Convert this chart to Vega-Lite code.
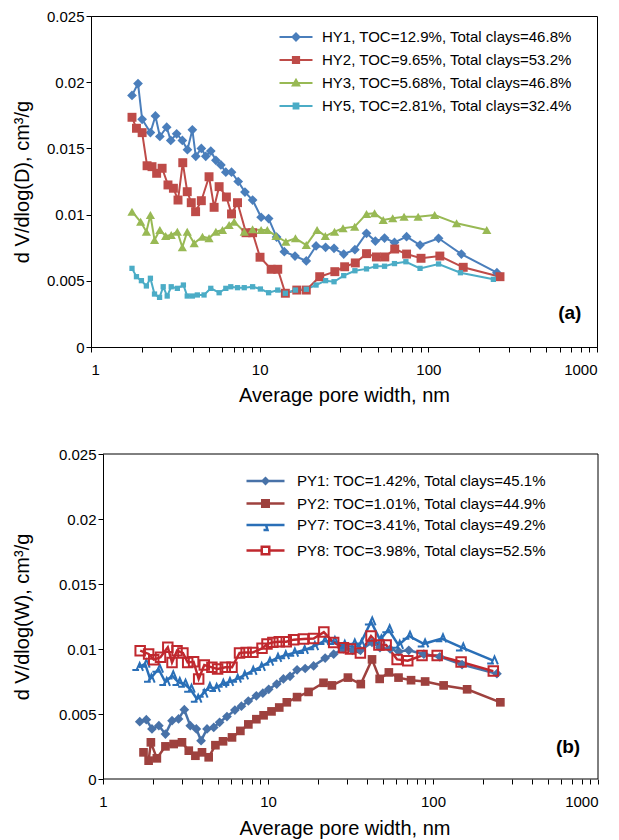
{
  "$schema": "https://vega.github.io/schema/vega-lite/v6.json",
  "padding": {"left": 11, "top": 8, "right": 2, "bottom": 2},
  "background": "white",
  "spacing": 41,
  "config": {
    "font": "Liberation Sans",
    "view": {"stroke": "black", "strokeWidth": 1},
    "axis": {"domainColor": "black", "tickColor": "black", "labelColor": "black", "titleColor": "black", "labelFont": "Liberation Sans", "titleFont": "Liberation Sans", "labelFontSize": 15, "titleFontSize": 20, "titleFontWeight": "normal", "tickSize": 5, "grid": false, "labelPadding": 2},
    "legend": {"labelFont": "Liberation Sans", "labelFontSize": 15, "labelColor": "black", "padding": 0, "labelLimit": 500}
  },
  "resolve": {"scale": {"color": "independent"}, "legend": {"color": "independent"}},
  "datasets": {
    "a": [
      {"id":"HY1","x":1.75,"y":0.0190},{"id":"HY1","x":1.90,"y":0.0199},{"id":"HY1","x":2.01,"y":0.0172},{"id":"HY1","x":2.25,"y":0.0162},{"id":"HY1","x":2.41,"y":0.01745},{"id":"HY1","x":2.56,"y":0.0159},{"id":"HY1","x":2.81,"y":0.0166},{"id":"HY1","x":2.97,"y":0.0156},{"id":"HY1","x":3.22,"y":0.0161},{"id":"HY1","x":3.48,"y":0.0156},{"id":"HY1","x":3.73,"y":0.0149},{"id":"HY1","x":3.99,"y":0.0164},{"id":"HY1","x":4.18,"y":0.0144},{"id":"HY1","x":4.51,"y":0.0150},{"id":"HY1","x":4.79,"y":0.0144},{"id":"HY1","x":5.13,"y":0.0148},{"id":"HY1","x":5.50,"y":0.0141},{"id":"HY1","x":5.89,"y":0.01375},{"id":"HY1","x":6.30,"y":0.0132},{"id":"HY1","x":6.81,"y":0.0132},{"id":"HY1","x":7.46,"y":0.0125},{"id":"HY1","x":8.18,"y":0.0117},{"id":"HY1","x":9.08,"y":0.0111},{"id":"HY1","x":10.2,"y":0.0098},{"id":"HY1","x":11.3,"y":0.0097},{"id":"HY1","x":12.6,"y":0.0083},{"id":"HY1","x":14.0,"y":0.0072},{"id":"HY1","x":16.2,"y":0.00687},{"id":"HY1","x":18.9,"y":0.0065},{"id":"HY1","x":21.6,"y":0.00763},{"id":"HY1","x":24.6,"y":0.00753},{"id":"HY1","x":27.6,"y":0.00745},{"id":"HY1","x":31.5,"y":0.00702},{"id":"HY1","x":36.7,"y":0.00735},{"id":"HY1","x":43.0,"y":0.00859},{"id":"HY1","x":48.5,"y":0.0080},{"id":"HY1","x":55.0,"y":0.00823},{"id":"HY1","x":63.0,"y":0.0079},{"id":"HY1","x":74.3,"y":0.00833},{"id":"HY1","x":89.3,"y":0.0077},{"id":"HY1","x":115,"y":0.00821},{"id":"HY1","x":157,"y":0.00702},{"id":"HY1","x":255,"y":0.00561},
      {"id":"HY2","x":1.75,"y":0.01735},{"id":"HY2","x":1.86,"y":0.01652},{"id":"HY2","x":2.01,"y":0.01619},{"id":"HY2","x":2.15,"y":0.01369},{"id":"HY2","x":2.30,"y":0.01362},{"id":"HY2","x":2.45,"y":0.01312},{"id":"HY2","x":2.64,"y":0.0135},{"id":"HY2","x":2.86,"y":0.01224},{"id":"HY2","x":3.08,"y":0.01199},{"id":"HY2","x":3.28,"y":0.0111},{"id":"HY2","x":3.50,"y":0.01392},{"id":"HY2","x":3.72,"y":0.01173},{"id":"HY2","x":3.93,"y":0.0109},{"id":"HY2","x":4.17,"y":0.01022},{"id":"HY2","x":4.51,"y":0.01105},{"id":"HY2","x":5.01,"y":0.01286},{"id":"HY2","x":5.37,"y":0.01055},{"id":"HY2","x":5.75,"y":0.01211},{"id":"HY2","x":6.35,"y":0.01133},{"id":"HY2","x":6.81,"y":0.01005},{"id":"HY2","x":7.39,"y":0.0109},{"id":"HY2","x":8.3,"y":0.00863},{"id":"HY2","x":9.08,"y":0.00863},{"id":"HY2","x":10.05,"y":0.00678},{"id":"HY2","x":11.7,"y":0.00587},{"id":"HY2","x":12.8,"y":0.00587},{"id":"HY2","x":14.2,"y":0.00406},{"id":"HY2","x":16.6,"y":0.0043},{"id":"HY2","x":18.9,"y":0.0043},{"id":"HY2","x":22.7,"y":0.00531},{"id":"HY2","x":27.9,"y":0.00569},{"id":"HY2","x":31.9,"y":0.00606},{"id":"HY2","x":36.9,"y":0.00635},{"id":"HY2","x":43,"y":0.00705},{"id":"HY2","x":49.2,"y":0.0068},{"id":"HY2","x":55.2,"y":0.0068},{"id":"HY2","x":63.2,"y":0.0074},{"id":"HY2","x":74.3,"y":0.00702},{"id":"HY2","x":90.5,"y":0.0067},{"id":"HY2","x":117,"y":0.00687},{"id":"HY2","x":161,"y":0.00602},{"id":"HY2","x":266,"y":0.00531},
      {"id":"HY3","x":1.75,"y":0.01022},{"id":"HY3","x":1.97,"y":0.00946},{"id":"HY3","x":2.13,"y":0.00871},{"id":"HY3","x":2.25,"y":0.00997},{"id":"HY3","x":2.38,"y":0.00808},{"id":"HY3","x":2.56,"y":0.00884},{"id":"HY3","x":2.77,"y":0.00838},{"id":"HY3","x":2.99,"y":0.00846},{"id":"HY3","x":3.25,"y":0.00871},{"id":"HY3","x":3.48,"y":0.00753},{"id":"HY3","x":3.72,"y":0.00871},{"id":"HY3","x":4.09,"y":0.00783},{"id":"HY3","x":4.58,"y":0.00833},{"id":"HY3","x":5.01,"y":0.00821},{"id":"HY3","x":5.50,"y":0.00871},{"id":"HY3","x":6.02,"y":0.00884},{"id":"HY3","x":6.59,"y":0.00921},{"id":"HY3","x":7.06,"y":0.00946},{"id":"HY3","x":8.10,"y":0.00871},{"id":"HY3","x":9.08,"y":0.00889},{"id":"HY3","x":10.2,"y":0.00884},{"id":"HY3","x":11.1,"y":0.00884},{"id":"HY3","x":12.5,"y":0.00838},{"id":"HY3","x":14.3,"y":0.00795},{"id":"HY3","x":16.3,"y":0.00821},{"id":"HY3","x":18.9,"y":0.0077},{"id":"HY3","x":21.9,"y":0.00884},{"id":"HY3","x":24.5,"y":0.00838},{"id":"HY3","x":27.8,"y":0.00871},{"id":"HY3","x":31.2,"y":0.00897},{"id":"HY3","x":36.6,"y":0.00909},{"id":"HY3","x":43,"y":0.01005},{"id":"HY3","x":48,"y":0.0101},{"id":"HY3","x":54,"y":0.0096},{"id":"HY3","x":61.5,"y":0.00972},{"id":"HY3","x":71.8,"y":0.00984},{"id":"HY3","x":87,"y":0.00984},{"id":"HY3","x":109,"y":0.00997},{"id":"HY3","x":147,"y":0.00934},{"id":"HY3","x":222,"y":0.00884},
      {"id":"HY5","x":1.75,"y":0.00594},{"id":"HY5","x":1.86,"y":0.00531},{"id":"HY5","x":1.99,"y":0.00501},{"id":"HY5","x":2.13,"y":0.00461},{"id":"HY5","x":2.25,"y":0.00519},{"id":"HY5","x":2.38,"y":0.0040},{"id":"HY5","x":2.55,"y":0.00375},{"id":"HY5","x":2.68,"y":0.00455},{"id":"HY5","x":2.83,"y":0.00385},{"id":"HY5","x":2.99,"y":0.00455},{"id":"HY5","x":3.25,"y":0.00443},{"id":"HY5","x":3.53,"y":0.00468},{"id":"HY5","x":3.72,"y":0.00385},{"id":"HY5","x":3.99,"y":0.00385},{"id":"HY5","x":4.27,"y":0.00393},{"id":"HY5","x":4.68,"y":0.00393},{"id":"HY5","x":5.13,"y":0.00443},{"id":"HY5","x":5.75,"y":0.0041},{"id":"HY5","x":6.30,"y":0.00443},{"id":"HY5","x":6.74,"y":0.00455},{"id":"HY5","x":7.39,"y":0.00448},{"id":"HY5","x":8.10,"y":0.00448},{"id":"HY5","x":9.08,"y":0.00455},{"id":"HY5","x":10.1,"y":0.00438},{"id":"HY5","x":11.3,"y":0.0041},{"id":"HY5","x":12.8,"y":0.0043},{"id":"HY5","x":14.2,"y":0.00406},{"id":"HY5","x":16.3,"y":0.0043},{"id":"HY5","x":18.9,"y":0.00436},{"id":"HY5","x":21.6,"y":0.00468},{"id":"HY5","x":24.6,"y":0.00501},{"id":"HY5","x":27.6,"y":0.00493},{"id":"HY5","x":31.5,"y":0.00539},{"id":"HY5","x":36.7,"y":0.00576},{"id":"HY5","x":43,"y":0.0059},{"id":"HY5","x":48.8,"y":0.0061},{"id":"HY5","x":55,"y":0.0061},{"id":"HY5","x":63,"y":0.0063},{"id":"HY5","x":73.6,"y":0.00644},{"id":"HY5","x":89.3,"y":0.00594},{"id":"HY5","x":115,"y":0.00627},{"id":"HY5","x":155,"y":0.00561},{"id":"HY5","x":243,"y":0.00511}
    ],
    "b": [
      {"id":"PY1","x":1.67,"y":0.00441},{"id":"PY1","x":1.83,"y":0.00456},{"id":"PY1","x":1.98,"y":0.00385},{"id":"PY1","x":2.18,"y":0.0041},{"id":"PY1","x":2.39,"y":0.00346},{"id":"PY1","x":2.62,"y":0.00449},{"id":"PY1","x":2.87,"y":0.00462},{"id":"PY1","x":3.11,"y":0.00533},{"id":"PY1","x":3.38,"y":0.0041},{"id":"PY1","x":3.68,"y":0.00385},{"id":"PY1","x":3.93,"y":0.00295},{"id":"PY1","x":4.27,"y":0.00385},{"id":"PY1","x":4.69,"y":0.00397},{"id":"PY1","x":5.09,"y":0.00436},{"id":"PY1","x":5.64,"y":0.0048},{"id":"PY1","x":6.3,"y":0.0053},{"id":"PY1","x":6.9,"y":0.0056},{"id":"PY1","x":7.6,"y":0.006},{"id":"PY1","x":8.5,"y":0.0064},{"id":"PY1","x":9.3,"y":0.0066},{"id":"PY1","x":10.1,"y":0.0069},{"id":"PY1","x":11.3,"y":0.0073},{"id":"PY1","x":12.4,"y":0.0077},{"id":"PY1","x":13.6,"y":0.0079},{"id":"PY1","x":15.0,"y":0.0084},{"id":"PY1","x":16.8,"y":0.0085},{"id":"PY1","x":18.9,"y":0.0087},{"id":"PY1","x":22.2,"y":0.0093},{"id":"PY1","x":25.0,"y":0.0096},{"id":"PY1","x":28.6,"y":0.0100},{"id":"PY1","x":32.5,"y":0.0099},{"id":"PY1","x":36.3,"y":0.0099},{"id":"PY1","x":42.7,"y":0.0105},{"id":"PY1","x":47.7,"y":0.0101},{"id":"PY1","x":55,"y":0.0100},{"id":"PY1","x":62,"y":0.0098},{"id":"PY1","x":71.3,"y":0.0099},{"id":"PY1","x":88,"y":0.0096},{"id":"PY1","x":110,"y":0.0094},{"id":"PY1","x":150,"y":0.0088},{"id":"PY1","x":244,"y":0.0081},
      {"id":"PY2","x":1.76,"y":0.00205},{"id":"PY2","x":1.89,"y":0.00141},{"id":"PY2","x":1.95,"y":0.00282},{"id":"PY2","x":2.12,"y":0.00159},{"id":"PY2","x":2.39,"y":0.00251},{"id":"PY2","x":2.68,"y":0.00269},{"id":"PY2","x":3.01,"y":0.00282},{"id":"PY2","x":3.31,"y":0.00218},{"id":"PY2","x":3.63,"y":0.00179},{"id":"PY2","x":3.98,"y":0.00205},{"id":"PY2","x":4.37,"y":0.00167},{"id":"PY2","x":4.8,"y":0.0026},{"id":"PY2","x":5.34,"y":0.0029},{"id":"PY2","x":6.05,"y":0.0032},{"id":"PY2","x":6.8,"y":0.0037},{"id":"PY2","x":7.6,"y":0.0042},{"id":"PY2","x":8.5,"y":0.0046},{"id":"PY2","x":9.4,"y":0.0049},{"id":"PY2","x":10.5,"y":0.0052},{"id":"PY2","x":11.7,"y":0.0055},{"id":"PY2","x":13.0,"y":0.0059},{"id":"PY2","x":15.0,"y":0.0063},{"id":"PY2","x":17.6,"y":0.0067},{"id":"PY2","x":21.7,"y":0.0074},{"id":"PY2","x":24.4,"y":0.0072},{"id":"PY2","x":30.5,"y":0.0078},{"id":"PY2","x":36.5,"y":0.0073},{"id":"PY2","x":42.7,"y":0.0092},{"id":"PY2","x":47.5,"y":0.0077},{"id":"PY2","x":54,"y":0.0082},{"id":"PY2","x":61.8,"y":0.0078},{"id":"PY2","x":73.6,"y":0.0076},{"id":"PY2","x":89.6,"y":0.0075},{"id":"PY2","x":116,"y":0.0072},{"id":"PY2","x":161,"y":0.0069},{"id":"PY2","x":256,"y":0.0059},
      {"id":"PY7","x":1.64,"y":0.0086},{"id":"PY7","x":1.80,"y":0.00885},{"id":"PY7","x":1.93,"y":0.0077},{"id":"PY7","x":2.17,"y":0.00846},{"id":"PY7","x":2.39,"y":0.00744},{"id":"PY7","x":2.62,"y":0.00795},{"id":"PY7","x":2.87,"y":0.00744},{"id":"PY7","x":3.11,"y":0.00731},{"id":"PY7","x":3.38,"y":0.00692},{"id":"PY7","x":3.71,"y":0.00615},{"id":"PY7","x":4.04,"y":0.00654},{"id":"PY7","x":4.37,"y":0.00705},{"id":"PY7","x":4.8,"y":0.00698},{"id":"PY7","x":5.27,"y":0.00731},{"id":"PY7","x":5.78,"y":0.00744},{"id":"PY7","x":6.44,"y":0.00769},{"id":"PY7","x":7.11,"y":0.00795},{"id":"PY7","x":8.0,"y":0.0083},{"id":"PY7","x":9.0,"y":0.0086},{"id":"PY7","x":10.1,"y":0.009},{"id":"PY7","x":11.3,"y":0.0093},{"id":"PY7","x":12.6,"y":0.0095},{"id":"PY7","x":14.3,"y":0.0097},{"id":"PY7","x":16.4,"y":0.0099},{"id":"PY7","x":18.9,"y":0.0102},{"id":"PY7","x":21.8,"y":0.0106},{"id":"PY7","x":25,"y":0.0106},{"id":"PY7","x":28.7,"y":0.0103},{"id":"PY7","x":33,"y":0.0104},{"id":"PY7","x":36.3,"y":0.0104},{"id":"PY7","x":42.1,"y":0.0121},{"id":"PY7","x":47.8,"y":0.0107},{"id":"PY7","x":53.7,"y":0.0115},{"id":"PY7","x":61.8,"y":0.0103},{"id":"PY7","x":71.3,"y":0.0110},{"id":"PY7","x":88,"y":0.0104},{"id":"PY7","x":113,"y":0.0108},{"id":"PY7","x":150,"y":0.0101},{"id":"PY7","x":232,"y":0.0091},
      {"id":"PY8","x":1.68,"y":0.00987},{"id":"PY8","x":1.89,"y":0.00962},{"id":"PY8","x":2.03,"y":0.00918},{"id":"PY8","x":2.23,"y":0.00936},{"id":"PY8","x":2.47,"y":0.01013},{"id":"PY8","x":2.62,"y":0.00897},{"id":"PY8","x":2.81,"y":0.00987},{"id":"PY8","x":3.05,"y":0.00969},{"id":"PY8","x":3.26,"y":0.00897},{"id":"PY8","x":3.54,"y":0.00902},{"id":"PY8","x":3.80,"y":0.00769},{"id":"PY8","x":4.11,"y":0.00877},{"id":"PY8","x":4.57,"y":0.00859},{"id":"PY8","x":4.95,"y":0.00846},{"id":"PY8","x":5.51,"y":0.00859},{"id":"PY8","x":6.05,"y":0.00859},{"id":"PY8","x":6.72,"y":0.00969},{"id":"PY8","x":7.37,"y":0.00974},{"id":"PY8","x":8.10,"y":0.00974},{"id":"PY8","x":9.20,"y":0.01005},{"id":"PY8","x":9.86,"y":0.01038},{"id":"PY8","x":10.7,"y":0.01051},{"id":"PY8","x":11.7,"y":0.01056},{"id":"PY8","x":12.9,"y":0.01056},{"id":"PY8","x":14.3,"y":0.01072},{"id":"PY8","x":16.4,"y":0.01077},{"id":"PY8","x":18.9,"y":0.0108},{"id":"PY8","x":21.8,"y":0.0113},{"id":"PY8","x":25,"y":0.0105},{"id":"PY8","x":28.7,"y":0.0101},{"id":"PY8","x":31.6,"y":0.0100},{"id":"PY8","x":36.3,"y":0.0097},{"id":"PY8","x":42.1,"y":0.0110},{"id":"PY8","x":47,"y":0.0103},{"id":"PY8","x":52,"y":0.0103},{"id":"PY8","x":60.6,"y":0.0092},{"id":"PY8","x":70.3,"y":0.0091},{"id":"PY8","x":85.8,"y":0.0095},{"id":"PY8","x":106,"y":0.0095},{"id":"PY8","x":148,"y":0.0090},{"id":"PY8","x":232,"y":0.0083}
    ]
  },
  "vconcat": [
    {
      "width": 506, "height": 331,
      "data": {"name": "a"},
      "encoding": {
        "x": {"field": "x", "type": "quantitative", "scale": {"type": "log", "domain": [1, 1000], "nice": false},
              "axis": {"title": "Average pore width, nm", "values": [1,2,3,4,5,6,7,8,9,10,20,30,40,50,60,70,80,90,100,200,300,400,500,600,700,800,900,1000], "labelExpr": "datum.value == 1 || datum.value == 10 || datum.value == 100 || datum.value == 1000 ? datum.value + '' : ''", "labelOverlap": false, "labelPadding": 10, "titlePadding": 8}},
        "y": {"field": "y", "type": "quantitative", "scale": {"domain": [0, 0.025], "nice": false},
              "axis": {"title": "d V/dlog(D), cm³/g", "values": [0, 0.005, 0.01, 0.015, 0.02, 0.025], "format": "~g", "titlePadding": 14}}
      },
      "layer": [
        {
          "mark": {"type": "line", "strokeWidth": 2},
          "encoding": {
            "color": {"field": "id", "type": "nominal", "scale": {"domain": ["HY1","HY2","HY3","HY5"], "range": ["#4a7ebb","#be4b48","#98b954","#4bacc6"]},
              "legend": {"title": null, "orient": "none", "legendX": 197.5, "legendY": 13.5, "symbolSize": 100, "symbolStrokeWidth": 2, "rowPadding": 7, "labelOffset": 18.5,
                "labelExpr": "datum.label == 'HY1' ? 'HY1, TOC=12.9%, Total clays=46.8%' : datum.label == 'HY2' ? 'HY2, TOC=9.65%, Total clays=53.2%' : datum.label == 'HY3' ? 'HY3, TOC=5.68%, Total clays=46.8%' : 'HY5, TOC=2.81%, Total clays=32.4%'",
                "encode": {"symbols": {"update": {
                  "shape": [
                    {"test": "datum.value === 'HY1'", "value": "M-3.3,0H3.3M-0.7,0L0,-0.7L0.7,0L0,0.7Z"},
                    {"test": "datum.value === 'HY2'", "value": "M-3.3,0H3.3M-0.62,-0.62H0.62V0.62H-0.62Z"},
                    {"test": "datum.value === 'HY3'", "value": "M-3.3,0H3.3M-0.65,0.5L0,-0.65L0.65,0.5Z"},
                    {"value": "M-3.3,0H3.3M-0.48,-0.48H0.48V0.48H-0.48Z"}
                  ],
                  "fill": [
                    {"test": "datum.value === 'HY1'", "value": "#4a7ebb"},
                    {"test": "datum.value === 'HY2'", "value": "#be4b48"},
                    {"test": "datum.value === 'HY3'", "value": "#98b954"},
                    {"value": "#4bacc6"}
                  ],
                  "strokeWidth": {"value": 2},
                  "opacity": {"value": 1}
                }}}
              }}
          }
        },
        {"transform": [{"filter": "datum.id === 'HY1'"}], "mark": {"type": "point", "shape": "diamond", "size": 95, "filled": true, "opacity": 1, "color": "#4a7ebb"}},
        {"transform": [{"filter": "datum.id === 'HY2'"}], "mark": {"type": "point", "shape": "square", "size": 80, "filled": true, "opacity": 1, "color": "#be4b48"}},
        {"transform": [{"filter": "datum.id === 'HY3'"}], "mark": {"type": "point", "shape": "triangle-up", "size": 85, "filled": true, "opacity": 1, "color": "#98b954"}},
        {"transform": [{"filter": "datum.id === 'HY5'"}], "mark": {"type": "point", "shape": "square", "size": 28, "filled": true, "opacity": 1, "color": "#4bacc6"}},
        {
          "data": {"values": [{"x": 690, "y": 0.00257, "t": "(a)"}]},
          "mark": {"type": "text", "fontSize": 19, "fontWeight": "bold", "font": "Liberation Sans", "align": "center", "baseline": "middle", "color": "black"},
          "encoding": {"text": {"field": "t"}}
        }
      ]
    },
    {
      "width": 507, "height": 325,
      "view": {"stroke": null},
      "data": {"name": "b"},
      "encoding": {
        "x": {"field": "x", "type": "quantitative", "scale": {"type": "log", "domain": [0.8457, 1000], "nice": false},
              "axis": {"title": "Average pore width, nm", "domain": false, "values": [1,2,3,4,5,6,7,8,9,10,20,30,40,50,60,70,80,90,100,200,300,400,500,600,700,800,900,1000], "labelExpr": "datum.value == 1 || datum.value == 10 || datum.value == 100 || datum.value == 1000 ? datum.value + '' : ''", "labelOverlap": false, "labelPadding": 10, "titlePadding": 9}},
        "y": {"field": "y", "type": "quantitative", "scale": {"domain": [0, 0.025], "nice": false},
              "axis": {"title": "d V/dlog(W), cm³/g", "values": [0, 0.005, 0.01, 0.015, 0.02, 0.025], "format": "~g", "titlePadding": 26, "offset": -12}}
      },
      "layer": [
        {
          "data": {"values": [{"x": 1, "x2": 1000, "y": 0, "y2": 0}, {"x": 1, "x2": 1000, "y": 0.025, "y2": 0.025}, {"x": 1000, "x2": 1000, "y": 0, "y2": 0.025}]},
          "mark": {"type": "rule", "color": "black", "strokeWidth": 1},
          "encoding": {"x2": {"field": "x2"}, "y2": {"field": "y2"}}
        },
        {
          "mark": {"type": "line", "strokeWidth": 2.5},
          "encoding": {
            "color": {"field": "id", "type": "nominal", "scale": {"domain": ["PY1","PY2","PY7","PY8"], "range": ["#4872a8","#9e413e","#2a6fb7","#c0282e"]},
              "legend": {"title": null, "orient": "none", "legendX": 167, "legendY": 19.5, "symbolSize": 100, "symbolStrokeWidth": 2.5, "rowPadding": 5.5, "labelOffset": 24,
                "labelExpr": "datum.label == 'PY1' ? 'PY1: TOC=1.42%, Total clays=45.1%' : datum.label == 'PY2' ? 'PY2: TOC=1.01%, Total clays=44.9%' : datum.label == 'PY7' ? 'PY7: TOC=3.41%, Total clays=49.2%' : 'PY8: TOC=3.98%, Total clays=52.5%'",
                "encode": {"symbols": {"update": {
                  "shape": [
                    {"test": "datum.value === 'PY1'", "value": "M-3.8,0H3.8M-0.55,0L0,-0.55L0.55,0L0,0.55Z"},
                    {"test": "datum.value === 'PY2'", "value": "M-3.8,0H3.8M-0.65,-0.65H0.65V0.65H-0.65Z"},
                    {"test": "datum.value === 'PY7'", "value": "M-3.8,0H3.8M0.1,0L0.4,1H-0.4"},
                    {"value": "M-3.8,0H-0.75M0.75,0H3.8M-0.75,-0.75H0.75V0.75H-0.75Z"}
                  ],
                  "fill": [
                    {"test": "datum.value === 'PY1'", "value": "#4872a8"},
                    {"test": "datum.value === 'PY2'", "value": "#9e413e"},
                    {"test": "datum.value === 'PY7'", "value": "transparent"},
                    {"value": "white"}
                  ],
                  "strokeWidth": {"value": 2.5},
                  "opacity": {"value": 1}
                }}}
              }}
          }
        },
        {"transform": [{"filter": "datum.id === 'PY1'"}], "mark": {"type": "point", "shape": "diamond", "size": 95, "filled": true, "opacity": 1, "color": "#4872a8"}},
        {"transform": [{"filter": "datum.id === 'PY2'"}], "mark": {"type": "point", "shape": "square", "size": 75, "filled": true, "opacity": 1, "color": "#9e413e"}},
        {"transform": [{"filter": "datum.id === 'PY7'"}], "mark": {"type": "point", "shape": "M-1,0.45H0.1M-0.3,0.45L0.2,-0.7L0.75,0.6", "size": 150, "filled": false, "opacity": 1, "strokeWidth": 2, "color": "#2a6fb7"}},
        {"transform": [{"filter": "datum.id === 'PY8'"}], "mark": {"type": "point", "shape": "square", "size": 90, "filled": false, "opacity": 1, "strokeWidth": 2, "color": "#c0282e"}},
        {
          "data": {"values": [{"x": 658, "y": 0.00246, "t": "(b)"}]},
          "mark": {"type": "text", "fontSize": 19, "fontWeight": "bold", "font": "Liberation Sans", "align": "center", "baseline": "middle", "color": "black"},
          "encoding": {"text": {"field": "t"}}
        }
      ]
    }
  ]
}
